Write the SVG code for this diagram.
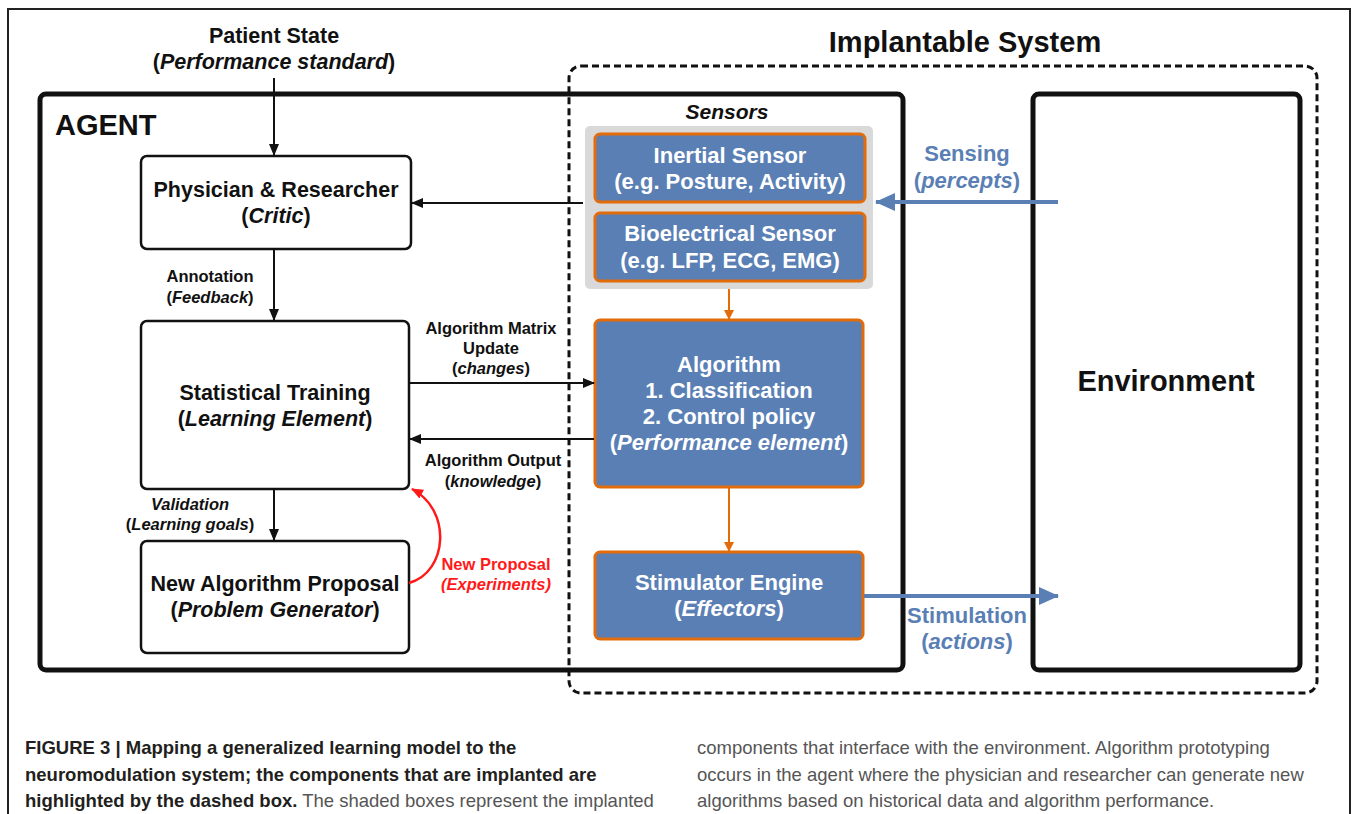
<svg xmlns="http://www.w3.org/2000/svg" width="1357" height="814" viewBox="0 0 1357 814">
<defs>
<style>
text{font-family:"Liberation Sans",Arial,sans-serif;text-anchor:middle;font-weight:bold;fill:#111}
.i{font-style:italic}
.n{font-weight:normal}
.big{font-size:21.5px}
.sm{font-size:16.5px}
.w{fill:#fff;font-size:22px}
.b{fill:#5a7fb5;font-size:22px}
.r{fill:#ff1a1a;font-size:16.5px}
.box{fill:#fff;stroke:#111;stroke-width:2.5}
.imp{fill:#5a7fb5;stroke:#e36c0a;stroke-width:3}
.ln{stroke:#111;stroke-width:2;fill:none}
.or{stroke:#e36c0a;stroke-width:2;fill:none}
.bl{stroke:#5a7fb5;stroke-width:4;fill:none}
.cap{font-size:18.5px;text-anchor:start}
</style>
<marker id="ak" markerWidth="12" markerHeight="10" refX="11" refY="5" orient="auto" markerUnits="userSpaceOnUse"><path d="M0,0 L12,5 L0,10 z" fill="#111"/></marker>
<marker id="ao" markerWidth="10" markerHeight="10" refX="9" refY="5" orient="auto" markerUnits="userSpaceOnUse"><path d="M0,0 L10,5 L0,10 z" fill="#e36c0a"/></marker>
<marker id="ab" markerWidth="20" markerHeight="18" refX="19" refY="9" orient="auto" markerUnits="userSpaceOnUse"><path d="M0,0 L20,9 L0,18 z" fill="#5a7fb5"/></marker>
<marker id="ar" markerWidth="12" markerHeight="10" refX="11" refY="5" orient="auto" markerUnits="userSpaceOnUse"><path d="M0,0 L12,5 L0,10 z" fill="#ff1a1a"/></marker>
</defs>
<rect width="1357" height="814" fill="#fff"/>
<path d="M8,820 V9 H1350 V820" fill="none" stroke="#222" stroke-width="2"/>

<g id="implantable-system">
<rect x="569" y="66" width="748" height="627" rx="12" fill="none" stroke="#111" stroke-width="3" stroke-dasharray="7,4"/>
<text x="965" y="52" style="font-size:29px">Implantable System</text>
</g>

<g id="agent">
<rect x="40" y="94" width="863" height="576" rx="6" fill="none" stroke="#111" stroke-width="5"/>
<text x="55" y="135" style="font-size:29px;text-anchor:start">AGENT</text>
</g>

<g id="environment">
<rect x="1033" y="94" width="267" height="576" rx="6" fill="none" stroke="#111" stroke-width="5"/>
<text x="1166" y="391" style="font-size:29px">Environment</text>
</g>

<g id="patient-state">
<text x="274" y="43" class="big">Patient State</text>
<text x="274" y="69" class="big">(<tspan class="i">Performance standard</tspan>)</text>
</g>

<g id="physician">
<rect x="141" y="156" width="270" height="93" rx="6" class="box"/>
<text x="276" y="197" class="big">Physician &amp; Researcher</text>
<text x="276" y="223" class="big">(<tspan class="i">Critic</tspan>)</text>
</g>

<g id="statistical-training">
<rect x="141" y="321" width="268" height="168" rx="6" class="box"/>
<text x="275" y="400" class="big">Statistical Training</text>
<text x="275" y="426" class="big">(<tspan class="i">Learning Element</tspan>)</text>
</g>

<g id="new-algorithm-proposal">
<rect x="141" y="541" width="268" height="112" rx="6" class="box"/>
<text x="275" y="591" class="big">New Algorithm Proposal</text>
<text x="275" y="617" class="big">(<tspan class="i">Problem Generator</tspan>)</text>
</g>

<g id="sensors">
<rect x="585" y="126" width="288" height="163" rx="5" fill="#d9d9d9"/>
<text x="727" y="119" class="i" style="font-size:21px">Sensors</text>
</g>

<g id="inertial-sensor">
<rect x="595" y="134" width="270" height="68" rx="5" class="imp"/>
<text x="730" y="163" class="w">Inertial Sensor</text>
<text x="730" y="189" class="w">(e.g. Posture, Activity)</text>
</g>

<g id="bioelectrical-sensor">
<rect x="595" y="213" width="270" height="68" rx="5" class="imp"/>
<text x="730" y="241" class="w">Bioelectrical Sensor</text>
<text x="730" y="268" class="w">(e.g. LFP, ECG, EMG)</text>
</g>

<g id="algorithm">
<rect x="595" y="320" width="268" height="167" rx="5" class="imp"/>
<text x="729" y="372" class="w">Algorithm</text>
<text x="729" y="398" class="w">1. Classification</text>
<text x="729" y="424" class="w">2. Control policy</text>
<text x="729" y="450" class="w">(<tspan class="i">Performance element</tspan>)</text>
</g>

<g id="stimulator-engine">
<rect x="595" y="552" width="268" height="87" rx="5" class="imp"/>
<text x="729" y="590" class="w">Stimulator Engine</text>
<text x="729" y="616" class="w">(<tspan class="i">Effectors</tspan>)</text>
</g>

<g id="connectors">
<path d="M274,78 V155" class="ln" marker-end="url(#ak)"/>
<path d="M583,203 H412" class="ln" marker-end="url(#ak)"/>
<path d="M274,249 V320" class="ln" marker-end="url(#ak)"/>
<path d="M409,383 H594" class="ln" marker-end="url(#ak)"/>
<path d="M594,439 H410" class="ln" marker-end="url(#ak)"/>
<path d="M274,489 V540" class="ln" marker-end="url(#ak)"/>
<path d="M409,583 C448,572 452,510 412,489" stroke="#ff1a1a" stroke-width="2.5" fill="none" marker-end="url(#ar)"/>
<path d="M729,289 V319" class="or" marker-end="url(#ao)"/>
<path d="M729,487 V551" class="or" marker-end="url(#ao)"/>
<path d="M1058,202 H876" class="bl" marker-end="url(#ab)"/>
<path d="M864,596 H1058" class="bl" marker-end="url(#ab)"/>
<text x="210" y="282" class="sm">Annotation</text>
<text x="210" y="303" class="sm">(<tspan class="i">Feedback</tspan>)</text>
<text x="491" y="334" class="sm">Algorithm Matrix</text>
<text x="491" y="354" class="sm">Update</text>
<text x="491" y="374" class="sm">(<tspan class="i">changes</tspan>)</text>
<text x="493" y="466" class="sm">Algorithm Output</text>
<text x="493" y="487" class="sm">(<tspan class="i">knowledge</tspan>)</text>
<text x="190" y="510" class="sm i">Validation</text>
<text x="190" y="530" class="sm">(<tspan class="i">Learning goals</tspan>)</text>
<text x="496" y="570" class="r">New Proposal</text>
<text x="496" y="590" class="r i">(Experiments)</text>
<text x="967" y="161" class="b">Sensing</text>
<text x="967" y="188" class="b">(<tspan class="i">percepts</tspan>)</text>
<text x="967" y="623" class="b">Stimulation</text>
<text x="967" y="649" class="b">(<tspan class="i">actions</tspan>)</text>
</g>

<g id="caption">
<text x="25" y="754" class="cap" style="fill:#231f20">FIGURE 3 | Mapping a generalized learning model to the</text>
<text x="25" y="781" class="cap" style="fill:#231f20">neuromodulation system; the components that are implanted are</text>
<text x="25" y="807" class="cap" style="fill:#231f20">highlighted by the dashed box.<tspan class="n" style="fill:#555"> The shaded boxes represent the implanted</tspan></text>
<text x="697" y="754" class="cap n" style="fill:#555">components that interface with the environment. Algorithm prototyping</text>
<text x="697" y="781" class="cap n" style="fill:#555">occurs in the agent where the physician and researcher can generate new</text>
<text x="697" y="807" class="cap n" style="fill:#555">algorithms based on historical data and algorithm performance.</text>
</g>
</svg>
